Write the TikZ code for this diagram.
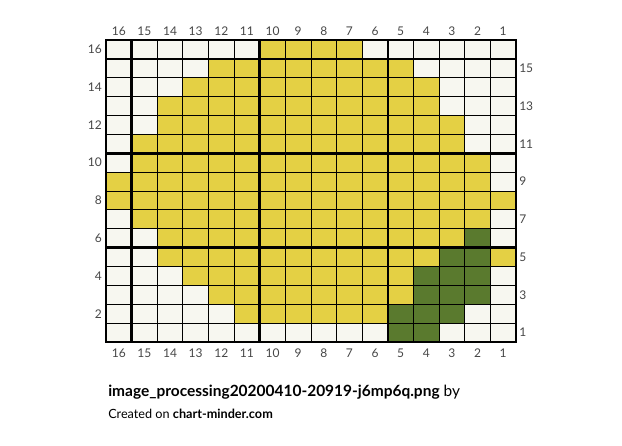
\documentclass[tikz,border=0pt]{standalone}
\usepackage{fontspec}
\setmainfont{Lato}
\definecolor{W}{RGB}{247,247,240}
\definecolor{Y}{RGB}{228,208,68}
\definecolor{G}{RGB}{90,122,46}
\definecolor{numgray}{RGB}{70,70,70}

\begin{document}
\begin{tikzpicture}[x=0.75pt,y=-0.75pt,
    gridline/.style={black,line width=0.75pt},
    boldline/.style={black,line width=2pt},
    numlabel/.style={text=numgray,font=\fontsize{9}{10}\selectfont,inner sep=0pt}]
    \useasboundingbox (0,0) rectangle (622,446);

    \coordinate (NW) at (106,40);
    \coordinate (SE) at (516,342);

    \foreach \row/\cells in {
        16/{W,W,W,W,W,W,Y,Y,Y,Y,W,W,W,W,W,W},
        15/{W,W,W,W,Y,Y,Y,Y,Y,Y,Y,Y,W,W,W,W},
        14/{W,W,W,Y,Y,Y,Y,Y,Y,Y,Y,Y,Y,W,W,W},
        13/{W,W,Y,Y,Y,Y,Y,Y,Y,Y,Y,Y,Y,W,W,W},
        12/{W,W,Y,Y,Y,Y,Y,Y,Y,Y,Y,Y,Y,Y,W,W},
        11/{W,Y,Y,Y,Y,Y,Y,Y,Y,Y,Y,Y,Y,Y,W,W},
        10/{W,Y,Y,Y,Y,Y,Y,Y,Y,Y,Y,Y,Y,Y,Y,W},
        9/{Y,Y,Y,Y,Y,Y,Y,Y,Y,Y,Y,Y,Y,Y,Y,W},
        8/{Y,Y,Y,Y,Y,Y,Y,Y,Y,Y,Y,Y,Y,Y,Y,Y},
        7/{W,Y,Y,Y,Y,Y,Y,Y,Y,Y,Y,Y,Y,Y,Y,W},
        6/{W,W,Y,Y,Y,Y,Y,Y,Y,Y,Y,Y,Y,Y,G,W},
        5/{W,W,Y,Y,Y,Y,Y,Y,Y,Y,Y,Y,Y,G,G,Y},
        4/{W,W,W,Y,Y,Y,Y,Y,Y,Y,Y,Y,G,G,G,W},
        3/{W,W,W,W,Y,Y,Y,Y,Y,Y,Y,Y,G,G,G,W},
        2/{W,W,W,W,W,Y,Y,Y,Y,Y,Y,G,G,G,W,W},
        1/{W,W,W,W,W,W,W,W,W,W,W,G,G,W,W,W}}{
        \foreach \c [count=\i from 0] in \cells
            \fill[\c] ({106+\i*25.625},{40+(16-\row)*18.875}) rectangle ++(25.625,18.875);
    }

    \foreach \i in {1,...,15}
        \draw[gridline] ({106+\i*25.625},40) -- ({106+\i*25.625},342);
    \foreach \j in {1,...,15}
        \draw[gridline] (106,{40+\j*18.875}) -- (516,{40+\j*18.875});
    \foreach \i in {1,6,11}
        \draw[boldline] ({106+\i*25.625},40) -- ({106+\i*25.625},342);
    \foreach \j in {1,6,11}
        \draw[boldline] (106,{40+\j*18.875}) -- (516,{40+\j*18.875});
    \draw[boldline] (NW) rectangle (SE);

    \foreach \c in {1,...,16}{
        \node[numlabel] (top\c) at ({106+(16.5-\c)*25.625},31) {\c};
        \node[numlabel] (bot\c) at ({106+(16.5-\c)*25.625},353) {\c};
    }
    \foreach \r in {2,4,...,16}
        \node[numlabel,anchor=east] (left\r) at (102,{40+(16.5-\r)*18.875}) {\r};
    \foreach \r in {1,3,...,15}
        \node[numlabel,anchor=west] (right\r) at (519,{40+(16.5-\r)*18.875}) {\r};

    \node[anchor=west,inner sep=0pt,font=\fontsize{11.6}{13}\selectfont] (title) at (108,392)
        {\textbf{image\_processing20200410-20919-j6mp6q.png} by};
    \node[anchor=west,inner sep=0pt,font=\fontsize{9.5}{11}\selectfont] (credit) at (108,414)
        {Created on \textbf{chart-minder.com}};
\end{tikzpicture}
\end{document}
